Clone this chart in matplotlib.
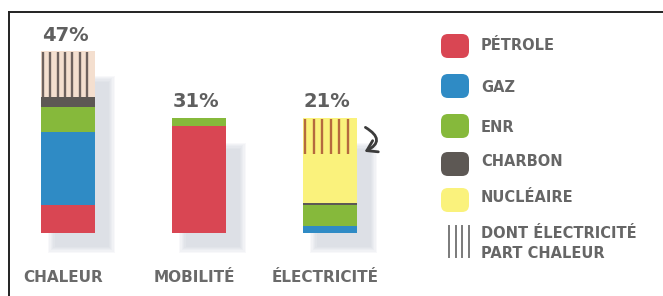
import matplotlib
matplotlib.use("Agg")
import matplotlib.pyplot as plt
from matplotlib.patches import FancyBboxPatch, Rectangle, FancyArrowPatch
import numpy as np

# ---------------- data ----------------
categories = ["CHALEUR", "MOBILITÉ", "ÉLECTRICITÉ"]
total_labels = ["47%", "31%", "21%"]
petrole = [7.2, 27.6, 0.0]
gaz = [18.9, 0.0, 1.8]
enr = [6.5, 2.1, 5.4]
charbon = [2.6, 0.0, 0.5]
nucleaire = [0.0, 0.0, 12.7]
elec_part_chaleur = [11.8, 0.0, 9.3]
legend_labels = ["PÉTROLE", "GAZ", "ENR", "CHARBON", "NUCLÉAIRE"]
hatch_label = ["DONT ÉLECTRICITÉ", "PART CHALEUR"]

# ---------------- style ----------------
W, H = 663, 296
c_petrole = "#d94653"
c_gaz = "#2f8bc5"
c_enr = "#86b93b"
c_charbon = "#5d5854"
c_nuc = "#faf27c"
seg_colors = [c_petrole, c_gaz, c_enr, c_charbon, c_nuc]
hatch_bg = ["#f4dfcf", None, c_nuc]
hatch_line = ["#6e625e", None, "#b56a3e"]
n_hatch = [7, 0, 6]
txt_gray = "#5f5f5f"

fig = plt.figure(figsize=(W / 100, H / 100), dpi=100)
fig.patch.set_facecolor("white")

# bar axes: full figure, calibrated so the bars sit where they are in the reference
ax = fig.add_axes([0, 0, 1, 1])
px_per_pct = 3.87
y0_px = 233
ax.set_ylim(-(H - y0_px) / px_per_pct, y0_px / px_per_pct)
unit = 131.0
x0_px = 67.5
ax.set_xlim(-x0_px / unit, (W - x0_px) / unit)
ax.axis("off")

x = np.arange(len(categories))
bw = 54 / unit

series = [petrole, gaz, enr, charbon, nucleaire]
totals = np.sum(np.array(series + [elec_part_chaleur]), axis=0)

# soft shadows
for i in range(len(categories)):
    for k in range(6):
        e = k * 1.3 / unit
        ey = k * 1.3 / px_per_pct
        ax.add_patch(Rectangle((x[i] - bw / 2 + 14 / unit - e, -3.5 - ey),
                               bw + 2 * e, totals[i] - 4.5 + 2 * ey,
                               facecolor="#bcc2cf", edgecolor="none",
                               alpha=0.10, zorder=1))

bottom = np.zeros(len(categories))
for vals, col in zip(series, seg_colors):
    ax.bar(x, vals, bw, bottom=bottom, color=col, edgecolor="none", zorder=3)
    bottom = bottom + np.array(vals)

# hatched "dont électricité part chaleur"
for i in range(len(categories)):
    v = elec_part_chaleur[i]
    if v <= 0:
        continue
    ax.bar(x[i], v, bw, bottom=bottom[i], color=hatch_bg[i], edgecolor="none", zorder=3)
    left = x[i] - bw / 2
    xs = left + bw * np.linspace(0.05, 0.86 if n_hatch[i] == 7 else 0.84, n_hatch[i])
    ax.vlines(xs, bottom[i], bottom[i] + v - 0.3, colors=hatch_line[i], lw=1.7, zorder=4)

# percentage labels
for i in range(len(categories)):
    ax.text(x[i] - 0.02, totals[i] + 1.7, total_labels[i], ha="center", va="bottom",
            fontsize=14, fontweight="bold", color=txt_gray, zorder=5)

# category labels
for i, c in enumerate(categories):
    ax.text(x[i] - 0.03, -11.4, c, ha="center", va="center",
            fontsize=11, fontweight="bold", color="#6a6a6a", zorder=5)

# overlay in pixel coordinates for legend, frame, arrow
ov = fig.add_axes([0, 0, 1, 1], facecolor="none")
ov.set_xlim(0, W)
ov.set_ylim(H, 0)
ov.axis("off")

# frame (top and left edges)
ov.plot([9, W], [11.5, 11.5], color="#222222", lw=1.4)
ov.plot([9, 9], [11.5, H], color="#222222", lw=1.4)

# legend
leg_y = [46, 86, 126, 164, 200]
text_y = [45, 87, 127, 162, 198]
for lab, col, yy, ty in zip(legend_labels, seg_colors, leg_y, text_y):
    ov.add_patch(FancyBboxPatch((447, yy - 6), 16, 12,
                                boxstyle="round,pad=6,rounding_size=7",
                                facecolor=col, edgecolor="none"))
    ov.text(481, ty, lab, ha="left", va="center", fontsize=10.5,
            fontweight="bold", color="#666666")
for hx in [449, 455.5, 462, 468.5]:
    ov.plot([hx, hx], [226, 257], color="#7a7a7a", lw=1.4)
ov.text(481, 233, hatch_label[0], ha="left", va="center", fontsize=10.5,
        fontweight="bold", color="#666666")
ov.text(481, 253, hatch_label[1], ha="left", va="center", fontsize=10.5,
        fontweight="bold", color="#666666")

# curved arrow next to électricité bar
arr = FancyArrowPatch((363, 126), (362, 153), connectionstyle="arc3,rad=-1.0",
                      arrowstyle="->,head_length=7,head_width=4.5",
                      color="#3c3c3c", lw=2.0, mutation_scale=1)
ov.add_patch(arr)

fig.savefig("out.png", dpi=100, facecolor="white")
